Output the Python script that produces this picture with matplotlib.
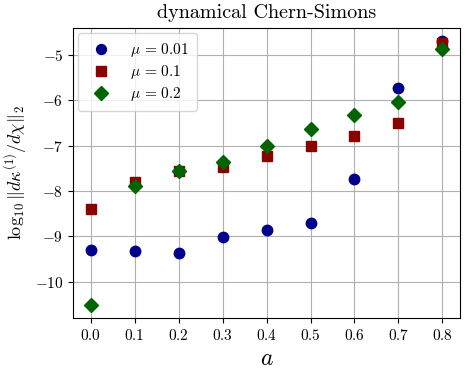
import matplotlib
matplotlib.use("Agg")
import matplotlib.pyplot as plt

plt.rcParams['font.family'] = 'serif'
plt.rcParams['font.serif'] = ['cmr10']
plt.rcParams['mathtext.fontset'] = 'cm'
plt.rcParams['axes.formatter.use_mathtext'] = True

a = [0.0, 0.1, 0.2, 0.3, 0.4, 0.5, 0.6, 0.7, 0.8]
mu_001 = [-9.31, -9.32, -9.37, -9.02, -8.85, -8.70, -7.73, -5.73, -4.70]
mu_01 = [-8.39, -7.80, -7.56, -7.47, -7.23, -7.00, -6.80, -6.50, -4.74]
mu_02 = [-10.51, -7.89, -7.56, -7.37, -7.00, -6.63, -6.32, -6.05, -4.88]
xticks = [0.0, 0.1, 0.2, 0.3, 0.4, 0.5, 0.6, 0.7, 0.8]

fig, ax = plt.subplots(figsize=(4.68, 3.72), dpi=100)

ax.plot(a, mu_001, 'o', color='darkblue', markersize=7.5, linestyle='none', label=r'$\mu\,=\,0.01$')
ax.plot(a, mu_01, 's', color='darkred', markersize=7, linestyle='none', label=r'$\mu\,=\,0.1$')
ax.plot(a, mu_02, 'D', color='darkgreen', markersize=7, linestyle='none', label=r'$\mu\,=\,0.2$')

ax.set_xticks(xticks)
ax.set_title('dynamical Chern-Simons', fontsize=14.5, pad=7)
ax.set_xlabel(r'$a$', fontsize=17)
ax.set_ylabel(r'$\log_{10}\|d\kappa^{(1)}/d\chi\|_2$', fontsize=13)
ax.tick_params(labelsize=11)
ax.grid(True)
ax.legend(loc='upper left', fontsize=11, markerscale=0.95, labelspacing=0.28,
          handletextpad=0.9, borderpad=0.5, borderaxespad=0.35)

fig.subplots_adjust(left=0.156, right=0.983, top=0.925, bottom=0.145)
fig.savefig('out.png')
